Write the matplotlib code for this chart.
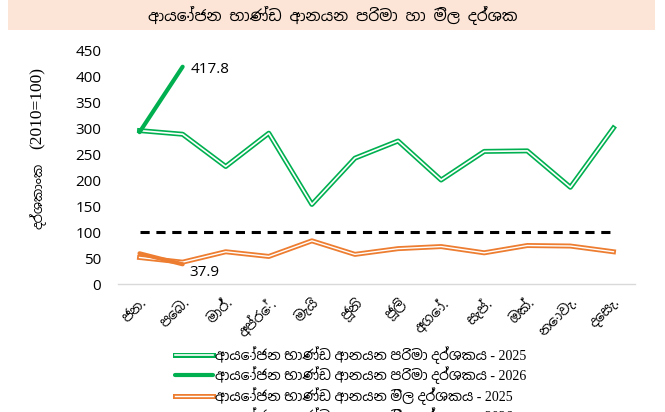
import matplotlib
matplotlib.use('Agg')
import matplotlib.pyplot as plt
from matplotlib import font_manager
from matplotlib.patches import Rectangle
import matplotlib.patheffects as pe
from matplotlib.ft2font import FT2Font

# ---------------- data ----------------
months = ['ජන.', 'පෙබ.', 'මාර්.', 'අප්රේ.', 'මැයි', 'ජූනි', 'ජූලි', 'අගෝ.', 'සැප්.', 'ඔක්.', 'නොවැ.', 'දෙසැ.']
vol_2025 = [295, 288, 226, 290, 153, 242, 275, 200, 255, 256, 186, 300]
vol_2026 = [292, 417.8]
price_2025 = [51, 42, 62, 53, 83, 57, 68, 72, 60, 74, 73, 62]
price_2026 = [59, 37.9]
base_line = [100] * 12
yticks = [0, 50, 100, 150, 200, 250, 300, 350, 400, 450]

title = 'ආයෝජන භාණ්ඩ ආනයන පරිමා හා මිල දර්ශක'
ylabel_si = 'දර්ශකාංක'
ylabel_base = '(2010=100)'
legend_labels = ['ආයෝජන භාණ්ඩ ආනයන පරිමා දර්ශකය - 2025',
                 'ආයෝජන භාණ්ඩ ආනයන පරිමා දර්ශකය - 2026',
                 'ආයෝජන භාණ්ඩ ආනයන මිල දර්ශකය - 2025',
                 'ආයෝජන භාණ්ඩ ආනයන මිල දර්ශකය - 2026']

# ---------------- fonts ----------------
def find_sinhala_font():
    best, best_score = None, -99
    seen = set()
    for f in font_manager.fontManager.ttflist:
        if f.fname in seen:
            continue
        seen.add(f.fname)
        try:
            cm = FT2Font(f.fname).get_charmap()
        except Exception:
            continue
        if 0x0D9A in cm and 0x0DCF in cm:
            n = f.name.lower()
            score = 0
            if 'sinhala' in n:
                score += 3
            if 'mono' in n or 'code' in n:
                score -= 5
            if f.weight in ('normal', 400, 'regular') and f.style == 'normal':
                score += 1
            if score > best_score:
                best, best_score = f.name, score
    return best

sin = find_sinhala_font()
sin_list = [sin] if sin else []
fam = sin_list + ['DejaVu Sans']
num_font = ['Open Sans', 'DejaVu Sans']
serif_mix = ['Liberation Serif'] + sin_list
plt.rcParams['font.family'] = fam

GREEN = '#00B050'
ORANGE = '#ED7D31'

fig = plt.figure(figsize=(6.65, 4.12), dpi=100)
fig.patches.append(Rectangle((8 / 665, 1 - 30 / 412), 647 / 665, 30 / 412,
                             transform=fig.transFigure, facecolor='#FCE4D6',
                             edgecolor='none', zorder=0))
fig.text(0.5, 1 - 15 / 412, title, ha='center', va='center', fontsize=11.2,
         family=fam)

ax = fig.add_axes([118 / 665, 1 - 284 / 412, 517 / 665, 234 / 412])
x = list(range(len(months)))

def double(color):
    return [pe.Stroke(linewidth=3.6, foreground=color), pe.Normal()]

ax.plot(x, vol_2025, color='white', lw=1.2, path_effects=double(GREEN),
        label=legend_labels[0], zorder=3)
ax.plot(x[:len(vol_2026)], vol_2026, color=GREEN, lw=3.0,
        solid_capstyle='round', label=legend_labels[1], zorder=4)
ax.plot(x, price_2025, color='white', lw=1.0, path_effects=double(ORANGE),
        label=legend_labels[2], zorder=3)
ax.plot(x[:len(price_2026)], price_2026, color=ORANGE, lw=3.0,
        solid_capstyle='round', label=legend_labels[3], zorder=4)
ax.plot(x, base_line, color='black', lw=2.2, ls=(0, (3.0, 2.2)), zorder=2)

ax.annotate(f'{vol_2026[-1]:.1f}', (x[len(vol_2026) - 1], vol_2026[-1]),
            xytext=(6, -2), textcoords='offset points', ha='left', va='center',
            fontsize=11, family=num_font)
ax.annotate(f'{price_2026[-1]:.1f}', (x[len(price_2026) - 1], price_2026[-1]),
            xytext=(5, -6), textcoords='offset points', ha='left', va='center',
            fontsize=11, family=num_font)

ax.set_xlim(-0.5, 11.5)
ax.set_ylim(0, 450)
ax.set_yticks(yticks)
ax.set_yticklabels([str(v) for v in yticks], family=num_font, fontsize=11)
ax.set_xticks(x)
ax.set_xticklabels(months, rotation=45, ha='right', rotation_mode='anchor',
                   fontsize=10, family=fam)
ax.tick_params(axis='both', length=0)
ax.tick_params(axis='y', pad=12)
ax.tick_params(axis='x', pad=8)
for s in ['top', 'right', 'left']:
    ax.spines[s].set_visible(False)
ax.spines['bottom'].set_color('#D9D9D9')
ax.spines['bottom'].set_linewidth(1.0)

fig.text(38 / 665, 1 - 196 / 412, ylabel_si, rotation=90, ha='center',
         va='center', fontsize=9.5, family=fam)
fig.text(38 / 665, 1 - 108 / 412, ylabel_base, rotation=90, ha='center',
         va='center', fontsize=12.5, family=serif_mix)

handles, labels = ax.get_legend_handles_labels()
fig.legend(handles, labels, loc='upper left',
           bbox_to_anchor=(175 / 665, 1 - 346 / 412), frameon=False,
           prop={'family': serif_mix, 'size': 10}, handlelength=2.7,
           handletextpad=0.15, labelspacing=0.2, borderpad=0, borderaxespad=0)

fig.savefig('out.png', dpi=100)
